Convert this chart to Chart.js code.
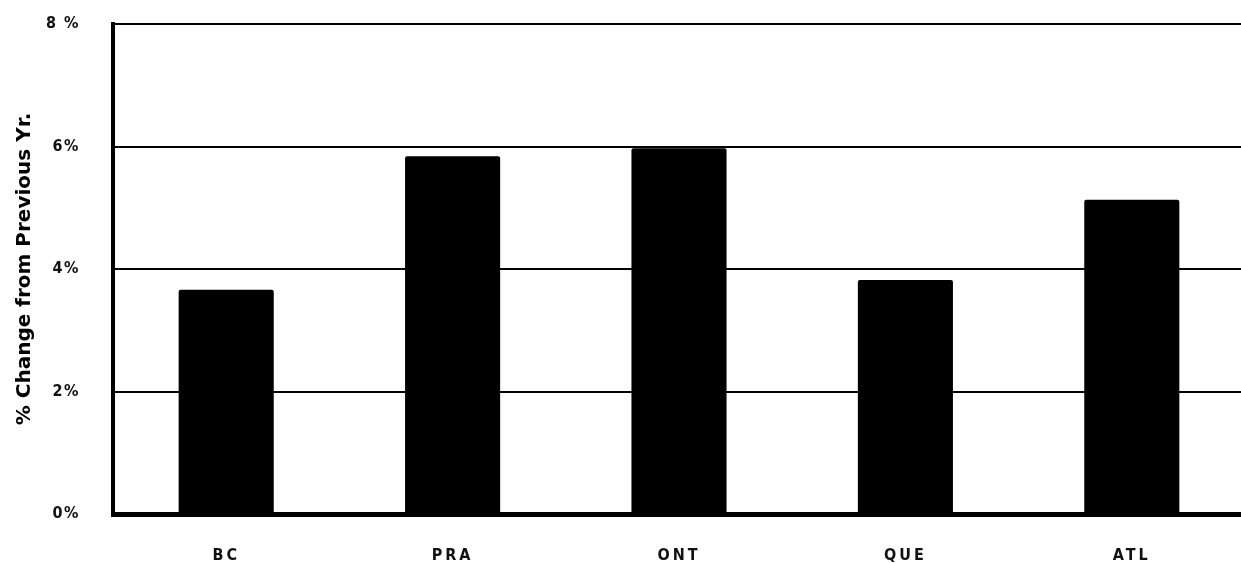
<!DOCTYPE html>
<html>
<head>
<meta charset="utf-8">
<script src="https://cdn.jsdelivr.net/npm/chart.js@4/dist/chart.umd.min.js"></script>
<style>
  html, body { margin: 0; padding: 0; background: #fff; overflow: hidden; }
  #wrap { width: 1241px; height: 563px; overflow: hidden; }
</style>
</head>
<body>
<div id="wrap"><canvas id="c" width="1245" height="563"></canvas></div>
<script>
// Regions and year-over-year percentage change
const regions = ['BC', 'PRA', 'ONT', 'QUE', 'ATL'];
const pctChange = [3.66, 5.84, 5.97, 3.82, 5.13];
const yTickValues = [0, 2, 4, 6, 8];
const yTickLabels = ['0%', '2%', '4%', '6%', '8 %'];

// Run a scale drawing step with a given letter spacing
function withSpacing(scale, method, spacing) {
  const orig = scale[method].bind(scale);
  scale[method] = function (...args) {
    const ctx = this.ctx;
    const prev = ctx.letterSpacing;
    ctx.letterSpacing = spacing;
    orig(...args);
    ctx.letterSpacing = prev;
  };
}

const spacedText = {
  id: 'spacedText',
  afterUpdate(chart) {
    const { x, y } = chart.scales;
    if (!y._spacingSet) {
      withSpacing(y, 'drawTitle', '0px');
      withSpacing(y, 'drawLabels', '1.5px');
      withSpacing(x, 'drawLabels', '3px');
      y._spacingSet = true;
    }
  }
};

// Keep tick padding from pushing the plot area inward
function noEdgePadding(scale) {
  scale.paddingTop = 0;
  scale.paddingBottom = 0;
  scale.paddingLeft = 0;
  scale.paddingRight = 0;
}

new Chart(document.getElementById('c'), {
  type: 'bar',
  data: {
    labels: regions,
    datasets: [{
      data: pctChange,
      backgroundColor: '#000',
      borderWidth: 0,
      borderRadius: 2,
      borderSkipped: 'bottom',
      barPercentage: 0.42,
      categoryPercentage: 1
    }]
  },
  options: {
    responsive: false,
    animation: false,
    events: [],
    layout: { padding: { top: 24, right: 0, left: 0, bottom: 0 } },
    plugins: { legend: { display: false }, tooltip: { enabled: false } },
    scales: {
      x: {
        grid: { display: false, drawTicks: false },
        border: { display: true, color: '#000', width: 5 },
        ticks: {
          color: '#111',
          padding: 32,
          font: { family: 'Liberation Sans Narrow, DejaVu Sans Condensed, sans-serif', size: 16, weight: 'bold' }
        },
        afterFit(scale) { scale.height = 49; noEdgePadding(scale); }
      },
      y: {
        min: 0,
        max: 8,
        afterBuildTicks(scale) { scale.ticks = yTickValues.map(v => ({ value: v })); },
        grid: { color: '#000', lineWidth: 2, drawTicks: false },
        border: { display: true, color: '#000', width: 4 },
        ticks: {
          color: '#111',
          padding: 33,
          font: { family: 'Liberation Sans Narrow, DejaVu Sans Condensed, sans-serif', size: 16, weight: 'bold' },
          callback(value) { return yTickLabels[yTickValues.indexOf(value)]; }
        },
        title: {
          display: true,
          text: '% Change from Previous Yr.',
          color: '#000',
          padding: { top: 13, bottom: 0 },
          font: { family: 'DejaVu Sans, sans-serif', size: 20, weight: 'bold' }
        },
        afterFit(scale) { scale.width = 113; noEdgePadding(scale); }
      }
    }
  },
  plugins: [spacedText]
});
</script>
</body>
</html>
